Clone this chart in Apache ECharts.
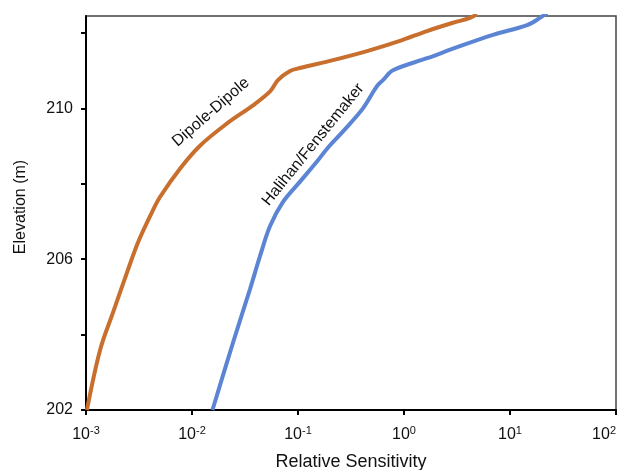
<!DOCTYPE html>
<html>
<head>
<meta charset="utf-8">
<script src="https://cdn.jsdelivr.net/npm/echarts@6/dist/echarts.min.js"></script>
<style>
  html, body { margin: 0; padding: 0; background: #fff; }
  #main { width: 623px; height: 470px; }
</style>
</head>
<body>
<div id="main"></div>
<script>
// values: sensitivity (x, log) vs elevation (y)
const dipoleX = [0.00102, 0.00136, 0.0018, 0.00244, 0.0031, 0.0042, 0.00499, 0.0077, 0.0119, 0.0214,
  0.0376, 0.0545, 0.0647, 0.0841, 0.104, 0.214, 0.448, 0.916, 1.65, 2.9, 4.2, 4.89]
const dipoleY = [202.0, 203.6, 204.59, 205.65, 206.45, 207.25, 207.65, 208.4, 209.01, 209.6,
  210.08, 210.45, 210.75, 210.99, 211.07, 211.28, 211.52, 211.79, 212.05, 212.27, 212.4, 212.5]

const halihanX = [0.0156, 0.0244, 0.0352, 0.0438, 0.0545, 0.0722, 0.104, 0.151, 0.188, 0.266,
  0.41, 0.556, 0.634, 0.787, 1.65, 3.37, 6.91, 14.5, 19.2, 22.3]
const halihanY = [202.0, 203.79, 205.2, 206.08, 206.88, 207.52, 208.05, 208.59, 208.93, 209.39,
  210.0, 210.59, 210.75, 211.01, 211.33, 211.65, 211.95, 212.21, 212.4, 212.53]

const yTicks = [202, 204, 206, 208, 210, 212]
const yLabels = [202, 206, 210]

// where the curve names sit, in data units, and their slant in degrees
const labelNames = ['Dipole-Dipole', 'Halihan/Fenstemaker']
const labelAt = [[0.0151, 209.9], [0.139, 209.04]]
const labelTilt = [41, 51]

const FONT = '"Liberation Sans", Arial, sans-serif'

function zip(xs, ys) {
  return xs.map((x, i) => [x, ys[i]])
}

const chart = echarts.init(document.getElementById('main'), null, { renderer: 'canvas' })

const option = {
  animation: false,
  backgroundColor: '#fff',
  textStyle: { fontFamily: FONT },
  grid: {
    left: 86,
    right: 7,
    top: 16,
    bottom: 60,
    containLabel: false,
    outerBoundsMode: 'none',
    show: true,
    borderColor: '#444',
    borderWidth: 1.5
  },
  xAxis: {
    type: 'log',
    logBase: 10,
    min: 0.001,
    max: 100,
    name: 'Relative Sensitivity',
    nameLocation: 'middle',
    nameGap: 43,
    nameTextStyle: { fontFamily: FONT, fontSize: 18, color: '#111' },
    axisLine: { lineStyle: { color: '#000', width: 2 } },
    axisTick: { show: true, length: 5, lineStyle: { color: '#000', width: 2 } },
    minorTick: { show: false },
    splitLine: { show: false },
    axisLabel: {
      margin: 15,
      color: '#111',
      alignMaxLabel: 'right',
      formatter: v => '{b|10}{sup|' + Math.round(Math.log10(v)) + '}',
      rich: {
        b: { fontFamily: FONT, fontSize: 16, color: '#111' },
        sup: { fontFamily: FONT, fontSize: 11, color: '#111', verticalAlign: 'bottom', padding: [0, 0, 9, 0] }
      }
    }
  },
  yAxis: {
    type: 'value',
    min: 202,
    max: 212.45,
    name: 'Elevation (m)',
    nameLocation: 'middle',
    nameGap: 57,
    nameTextStyle: { fontFamily: FONT, fontSize: 16, color: '#111', padding: [0, 0, 0, 12] },
    axisLine: { lineStyle: { color: '#000', width: 2 } },
    axisTick: { show: true, length: 5, customValues: yTicks, lineStyle: { color: '#000', width: 2 } },
    splitLine: { show: false },
    axisLabel: {
      margin: 13,
      customValues: yLabels,
      fontFamily: FONT,
      fontSize: 16,
      color: '#111'
    }
  },
  series: [
    {
      name: labelNames[0],
      type: 'line',
      data: zip(dipoleX, dipoleY),
      showSymbol: false,
      smooth: 0.35,
      lineStyle: { color: '#C96F2E', width: 4 }
    },
    {
      name: labelNames[1],
      type: 'line',
      data: zip(halihanX, halihanY),
      showSymbol: false,
      smooth: 0.35,
      lineStyle: { color: '#5B84D4', width: 4 }
    }
  ]
}

chart.setOption(option)

// curve names, placed through the chart's own scales
const texts = labelNames.map((name, i) => {
  const p = chart.convertToPixel({ gridIndex: 0 }, labelAt[i])
  return {
    type: 'text',
    x: p[0],
    y: p[1],
    rotation: labelTilt[i] * Math.PI / 180,
    style: {
      text: name,
      fontFamily: FONT,
      fontSize: 16,
      fill: '#111',
      align: 'center',
      verticalAlign: 'middle'
    },
    z: 10
  }
})
chart.setOption({ graphic: texts })
</script>
</body>
</html>
